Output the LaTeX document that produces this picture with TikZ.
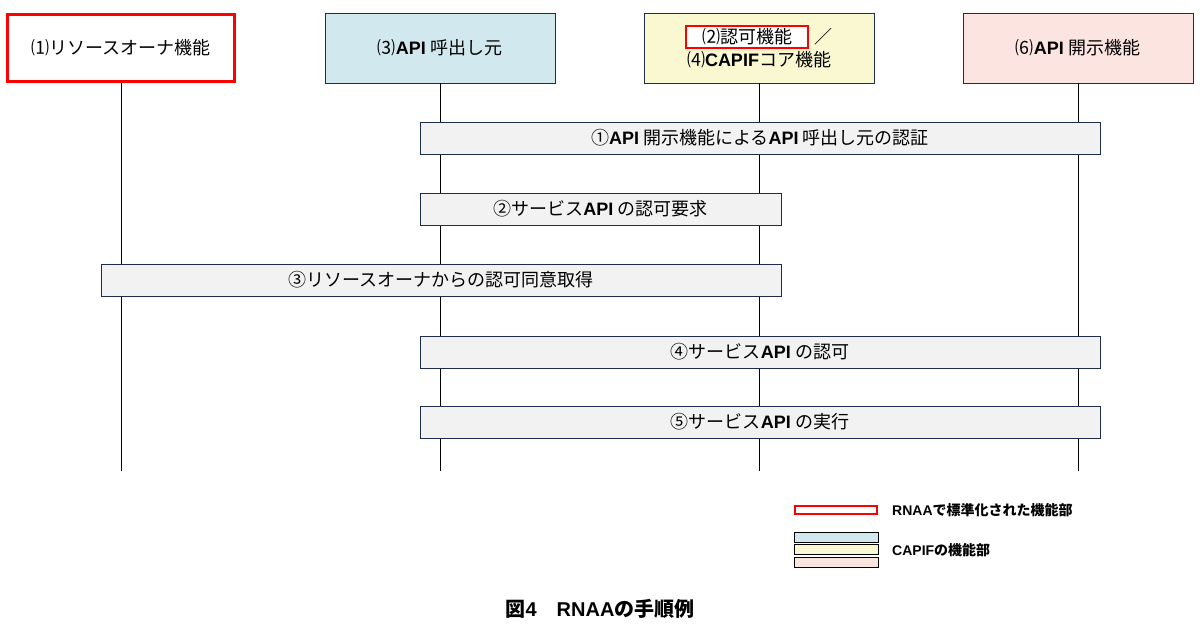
\documentclass[tikz,border=0pt]{standalone}
\usepackage{fontspec}
\setmainfont{Noto Sans CJK JP}
\newfontfamily\lat{Liberation Sans}
\newcommand{\LB}[1]{{\lat\bfseries #1}}
\definecolor{navy}{HTML}{1F2D4D}
\definecolor{hblue}{HTML}{D1E9EE}
\definecolor{hyellow}{HTML}{FAF8D0}
\definecolor{hpink}{HTML}{FCE4E1}
\definecolor{bargray}{HTML}{F2F2F2}
\definecolor{rred}{HTML}{FF0000}
\tikzset{
  hdr/.style={draw=navy, line width=0.9pt, minimum width=230pt, minimum height=70pt, inner sep=0pt, font=\fontsize{18}{20}\selectfont},
  redhdr/.style={draw=rred, line width=3pt, minimum width=227pt, minimum height=67pt, inner sep=0pt, fill=white, font=\fontsize{18}{20}\selectfont},
  bar/.style={draw=navy, line width=0.9pt, fill=bargray, minimum height=32pt, inner sep=0pt, font=\fontsize{18}{20}\selectfont},
  life/.style={line width=0.8pt, black},
  legbar/.style={draw=black, line width=0.8pt, minimum width=84pt, minimum height=10pt, inner sep=0pt},
  legtxt/.style={anchor=west, inner sep=0pt, font=\fontsize{14}{16}\selectfont\bfseries},
}
\begin{document}
\begin{tikzpicture}[x=1pt,y=-1pt]
\useasboundingbox (0,0) rectangle (1200,636);
% headers
\node[redhdr] (h1) at (121,48) {⑴リソースオーナ機能};
\node[hdr, fill=hblue] (h3) at (440,48) {⑶\LB{API} 呼出し元};
\node[hdr, fill=hyellow] (h2) at (759,48) {};
\node[hdr, fill=hpink] (h6) at (1078,48) {⑹\LB{API} 開示機能};
\node[draw=rred, line width=2.5pt, fill=white, minimum width=122pt, minimum height=22pt, inner sep=0pt, font=\fontsize{18}{20}\selectfont] (h2a) at (747,37) {⑵認可機能};
\node[inner sep=0pt, font=\fontsize{18}{20}\selectfont] (h2s) at (823,37) {／};
\node[inner sep=0pt, font=\fontsize{18}{20}\selectfont] (h2b) at (759,60) {⑷\LB{CAPIF}コア機能};
% lifeline ends
\coordinate (e1) at (121,471);
\coordinate (e3) at (440,471);
\coordinate (e2) at (759,471);
\coordinate (e6) at (1078,471);
\draw[life] (h1.south) -- (e1);
\draw[life] (h3.south) -- (e3);
\draw[life] (h2.south) -- (e2);
\draw[life] (h6.south) -- (e6);
% step bars
\node[bar, minimum width=680pt] (s1) at (760,138) {①\LB{API} 開示機能による\LB{API} 呼出し元の認証};
\node[bar, minimum width=361pt] (s2) at (600.5,209) {②サービス\LB{API} の認可要求};
\node[bar, minimum width=680pt] (s3) at (441,280) {③リソースオーナからの認可同意取得};
\node[bar, minimum width=680pt] (s4) at (760,352) {④サービス\LB{API} の認可};
\node[bar, minimum width=680pt] (s5) at (760,422) {⑤サービス\LB{API} の実行};
% legend
\node[legbar, draw=rred, line width=2.5pt, minimum width=82pt, minimum height=8pt, fill=white] (l1) at (836,510) {};
\node[legtxt] (t1) at (892,510) {\LB{RNAA}で標準化された機能部};
\node[legbar, fill=hblue] (l2) at (836,537) {};
\node[legbar, fill=hyellow] (l3) at (836,549.5) {};
\node[legbar, fill=hpink] (l4) at (836,562) {};
\node[legtxt] (t2) at (892,550) {\LB{CAPIF}の機能部};
% caption
\node[inner sep=0pt, font=\fontsize{20}{22}\selectfont\bfseries] (cap) at (600,609) {図\LB{4}　\LB{RNAA}の手順例};
\end{tikzpicture}
\end{document}
